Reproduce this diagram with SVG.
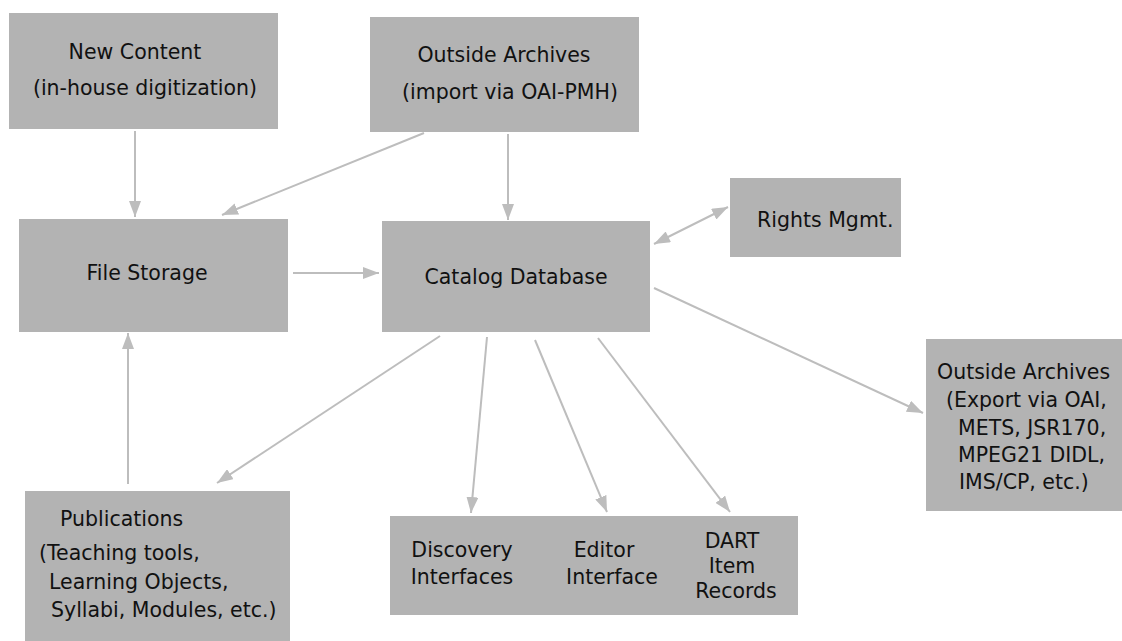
<svg xmlns="http://www.w3.org/2000/svg" width="1122" height="641" viewBox="0 0 1122 641">
<defs>
<style>
.box{fill:#b3b3b3;}
.t{font-family:"DejaVu Sans",Verdana,sans-serif;font-size:20.5px;fill:#111;}
.m{text-anchor:middle;}
.c{stroke:#bdbdbd;stroke-width:2;fill:none;}
</style>
<marker id="ah" markerUnits="userSpaceOnUse" markerWidth="18" markerHeight="12" refX="16" refY="6" orient="auto">
<path d="M0,0 L16,6 L0,12 Z" fill="#bdbdbd"/>
</marker>
<marker id="as" markerUnits="userSpaceOnUse" markerWidth="18" markerHeight="12" refX="0" refY="6" orient="auto">
<path d="M16,0 L0,6 L16,12 Z" fill="#bdbdbd"/>
</marker>
</defs>
<rect width="1122" height="641" fill="#ffffff"/>
<g id="connectors">
<line class="c" x1="135" y1="131" x2="135" y2="217" marker-end="url(#ah)"/>
<line class="c" x1="424" y1="133" x2="222" y2="215" marker-end="url(#ah)"/>
<line class="c" x1="508" y1="134" x2="508" y2="220" marker-end="url(#ah)"/>
<line class="c" x1="293" y1="273" x2="379" y2="273" marker-end="url(#ah)"/>
<line class="c" x1="654" y1="244" x2="728" y2="207" marker-start="url(#as)" marker-end="url(#ah)"/>
<line class="c" x1="654" y1="288" x2="923" y2="413" marker-end="url(#ah)"/>
<line class="c" x1="128" y1="484" x2="128" y2="333" marker-end="url(#ah)"/>
<line class="c" x1="440" y1="336" x2="217" y2="483" marker-end="url(#ah)"/>
<line class="c" x1="487" y1="337" x2="471" y2="513" marker-end="url(#ah)"/>
<line class="c" x1="535" y1="340" x2="607" y2="512" marker-end="url(#ah)"/>
<line class="c" x1="598" y1="338" x2="730" y2="512" marker-end="url(#ah)"/>
</g>
<g id="new-content">
<rect class="box" x="9" y="13" width="269" height="116"/>
<text class="t m" x="135" y="59">New Content</text>
<text class="t m" x="145" y="95">(in-house digitization)</text>
</g>
<g id="outside-archives-import">
<rect class="box" x="370" y="17" width="269" height="115"/>
<text class="t m" x="504" y="62">Outside Archives</text>
<text class="t m" x="510" y="99">(import via OAI-PMH)</text>
</g>
<g id="file-storage">
<rect class="box" x="19" y="219" width="269" height="113"/>
<text class="t m" x="147" y="280">File Storage</text>
</g>
<g id="catalog-database">
<rect class="box" x="382" y="221" width="268" height="111"/>
<text class="t m" x="516" y="284">Catalog Database</text>
</g>
<g id="rights-mgmt">
<rect class="box" x="730" y="178" width="171" height="79"/>
<text class="t" x="757" y="227">Rights Mgmt.</text>
</g>
<g id="outside-archives-export">
<rect class="box" x="926" y="339" width="196" height="172"/>
<text class="t" x="937" y="379">Outside Archives</text>
<text class="t" x="946" y="407">(Export via OAI,</text>
<text class="t" x="958" y="435">METS, JSR170,</text>
<text class="t" x="958" y="462">MPEG21 DIDL,</text>
<text class="t" x="959" y="489">IMS/CP, etc.)</text>
</g>
<g id="publications">
<rect class="box" x="25" y="491" width="265" height="150"/>
<text class="t" x="60" y="526">Publications</text>
<text class="t" x="39" y="560">(Teaching tools,</text>
<text class="t" x="49" y="589">Learning Objects,</text>
<text class="t" x="51" y="617">Syllabi, Modules, etc.)</text>
</g>
<g id="interfaces">
<rect class="box" x="390" y="516" width="408" height="99"/>
<text class="t m" x="462" y="557">Discovery</text>
<text class="t m" x="462" y="584">Interfaces</text>
<text class="t m" x="604" y="557">Editor</text>
<text class="t m" x="612" y="584">Interface</text>
<text class="t m" x="732" y="548">DART</text>
<text class="t m" x="732" y="573">Item</text>
<text class="t m" x="736" y="598">Records</text>
</g>
</svg>
